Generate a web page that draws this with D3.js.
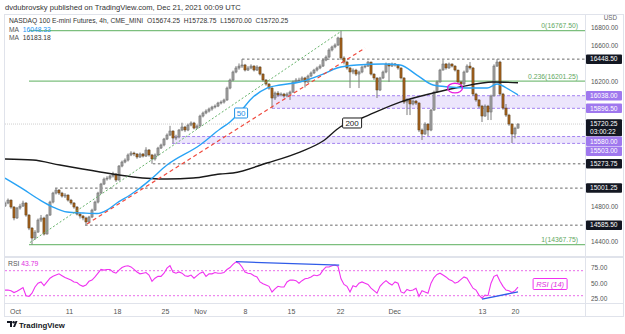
<!DOCTYPE html>
<html><head><meta charset="utf-8">
<script src="https://cdn.jsdelivr.net/npm/d3@7/dist/d3.min.js"></script>
<style>body{margin:0;background:#fff}svg{display:block}text{font-family:"Liberation Sans",Arial,sans-serif}</style>
</head><body>
<svg id="c" width="625" height="334"></svg>
<script>
// ---------- DATA ----------
const firstOpen = 14800;
const closes = [14834,14867,14789,14666,14778,14800,14834,14699,14553,14441,
14508,14643,14666,14486,14699,14845,14946,14980,14946,14912,
14924,14867,14834,14789,14710,14688,14666,14621,14677,14755,
14845,14946,15047,15103,15114,15137,15159,15092,15249,15294,
15316,15373,15395,15384,15350,15384,15361,15429,15373,15328,
15373,15451,15485,15552,15597,15642,15563,15575,15653,15687,
15653,15709,15732,15675,15698,15810,15844,15866,15889,15911,
15922,15956,15967,15990,16124,16214,16304,16349,16371,16383,
16326,16349,16371,16326,16360,16281,16214,16169,16124,16012,
16068,16046,16057,16035,16057,16079,16192,16214,16214,16237,
16192,16259,16293,16326,16349,16371,16438,16472,16551,16585,
16607,16686,16461,16416,16349,16304,16326,16281,16304,16360,
16371,16416,16281,16237,16102,16237,16304,16394,16371,16394,
16383,16349,16237,15967,15990,15945,15978,15956,15653,15608,
15720,15653,15877,16079,16192,16326,16394,16349,16394,16371,
16326,16192,16169,16304,16371,16349,16057,15990,15922,15810,
15922,15855,16035,16371,16416,16057,15900,15821,15720,15608,
15674.25,15720.25];
const highs = [14850,14885,14875,14800,14790,14825,14860,14845,14710,14565,
14530,14660,14700,14680,14710,14860,14960,15001.25,14990,14960,
14945,14930,14880,14845,14800,14730,14700,14680,14690,14770,
14860,14960,15060,15120,15135,15150,15185,15170,15260,15310,
15335,15390,15415,15410,15395,15400,15395,15460,15440,15385,
15390,15465,15500,15565,15615,15700,15650,15600,15665,15735,
15700,15725,15750,15745,15715,15825,15860,15885,15905,15925,
15940,15970,15985,16005,16140,16230,16320,16370,16400,16448.5,
16395,16370,16390,16380,16380,16370,16290,16225,16180,16135,
16085,16090,16075,16070,16075,16095,16210,16235,16240,16255,
16250,16275,16310,16340,16365,16390,16455,16490,16570,16600,
16625,16700,16767.5,16480,16430,16360,16345,16340,16320,16375,
16390,16430,16420,16290,16245,16250,16320,16410,16400,16410,
16405,16390,16355,16245,16010,16000,15995,15990,15965,15670,
15740,15730,15890,16095,16210,16340,16438,16405,16410,16400,
16380,16330,16205,16320,16390,16416,16360,16070,16000,15935,
15940,15935,16050,16390,16448.5,16430,16070,15945,15835,15730,
15690,15728.75];
const lows = [14790,14820,14770,14640,14655,14760,14790,14680,14530,14367.75,
14420,14500,14620,14470,14480,14690,14830,14930,14925,14895,
14890,14850,14815,14770,14695,14660,14640,14585.5,14605,14665,
14745,14830,14935,15035,15085,15095,15120,15070,15085,15235,
15280,15300,15360,15360,15330,15340,15345,15350,15355,15273.75,
15310,15360,15440,15470,15540,15585,15503,15540,15560,15640,
15630,15640,15695,15660,15665,15690,15795,15830,15850,15870,
15895,15910,15940,15950,15980,16110,16200,16290,16330,16350,
16310,16315,16335,16310,16315,16265,16195,16150,16105,15896.5,
15990,16025,16030,16015,16020,15990,16070,16180,16195,16200,
16130,16180,16245,16280,16310,16335,16360,16425,16460,16535,
16570,16595,16440,16390,16330,16124,16280,16260,16124,16290,
16345,16360,16265,16215,16012,16090,16225,16290,16192,16360,
16365,16330,16220,15945,15821,15821,15930,15935,15630,15541,
15600,15586,15640,15870,16070,16185,16320,16330,16340,16355,
16310,16175,16140,16160,16295,16330,16035,15970,15900,15743,
15800,15765,15765,16030,16360,16035,15880,15800,15700,15507,
15560,15670];
const rsi = [39,39,38,35,37,40,43,30,29,34,
44,50,52,46,52,58,61,63,65,62,
59,57,55,52,51,47,45,47,53,55,
60,66,72,71,72,72,68,66,71,75,
77,78,76,72,68,65,66,67,63,53,
58,61,61,66,74,78,68,66,68,66,
62,61,63,58,62,66,68,61,65,65,
67,66,66,67,72,75,80,84,82,76,
68,66,65,62,60,52,49,47,45,36,
41,45,44,44,52,55,55,54,50,54,
57,58,60,63,62,64,71,76,76,78,
79,77,57,48,45,36,46,44,50,52,
50,48,42,38,34,45,50,54,50,47,
52,50,36,34,40,38,39,42,29,38,
36,34,50,59,64,66,63,60,56,54,
50,52,56,60,58,50,42,39,31,26,
31,30,50,61,63,53,45,39,38,35,
38,43.79];
const ma50Idx = [0,5,11.7,16,20.7,26,30.7,34,37.3,41.7,45,48.3,54,65,71.7,75,78.3,82.7,87.3,91.7,98.3,106,110.7,117.3,126,131.7,137.3,142.7,148.3,155,160.7,164,168.3,171];
const ma50Val = [15114,15013,14867,14789,14733,14722,14716,14755,14834,14924,15002,15092,15260,15485,15664,15743,15855,16023,16124,16158,16192,16281,16349,16383,16394,16383,16270,16158,16136,16124,16124,16169,16102,16048.33];
const ma200Idx = [0,9.3,18.3,31.7,42.7,54,62.7,71.7,76,87.3,98.3,106,111.7,119,131.7,142.7,151.7,162.7,171];
const ma200Val = [15328,15316,15260,15182,15126,15103,15114,15159,15171,15283,15406,15530,15687,15788,15967,16068,16136,16192,16183.18];
const timeTickIdx = [3.3,21.3,37.3,53.3,65,80,95.3,111.7,129.7,159,170];
const timeTickLabels = ["Oct","11","18","25","Nov","8","15","22","Dec","13","20"];
const priceTicks = [16800,16600,16400,16200,16000,15800,15600,15400,15200,15000,14800,14600,14400];
const rsiTicks = [75,50,25];
const rsiBands = [70,30];
const supportLevels = [16448.5,15273.75,15001.25,14585.5];
const supportStartIdx = [79,49.3,16.7,26.7];
const zoneTop = [16038,15580];
const zoneBottom = [15896.5,15503];
const zoneStartIdx = [89,55.7];
const fibLevels = [16767.5,16201.25,14367.75];
const fibLabels = ["0(16767.50)","0.236(16201.25)","1(14367.75)"];
const fibStartIdx = 8;
const greenTrend = [[8.3,14390],[111.7,16753]];
const redTrend = [[27.3,14598],[120,16573]];
const rsiDivTop = [[77,84.4],[111.4,79]];
const rsiDivBottom = [[159,24.7],[171,36]];
const lastPrice = 15720.25;
const countdown = "03:00:22";

// ---------- LAYOUT ----------
const svg = d3.select("#c");
const W = 625, H = 334, axisX = 585, paneTop = 14, paneBottom = 256, rsiTop = 258, rsiBottom = 303, timeBottom = 316;
const x = d3.scaleLinear().domain([0,171]).range([5,518]);
const y = d3.scaleLinear().domain([14400,16800]).range([241.7,27.8]);
const yr = d3.scaleLinear().domain([30,70]).range([295.7,270.7]);
const font = '"Liberation Sans",Arial,sans-serif';

svg.append("rect").attr("width",W).attr("height",H).attr("fill","#fff");
const frameC = "#e0e3eb";
svg.append("rect").attr("x",4.5).attr("y",paneTop+0.5).attr("width",619).attr("height",timeBottom-paneTop).attr("fill","none").attr("stroke",frameC);
svg.append("line").attr("x1",4.5).attr("x2",623.5).attr("y1",paneBottom+1).attr("y2",paneBottom+1).attr("stroke",frameC).attr("stroke-width",2);
svg.append("line").attr("x1",4.5).attr("x2",623.5).attr("y1",rsiBottom+0.5).attr("y2",rsiBottom+0.5).attr("stroke",frameC);
svg.append("line").attr("x1",axisX+0.5).attr("x2",axisX+0.5).attr("y1",paneTop).attr("y2",timeBottom).attr("stroke",frameC);

svg.append("defs").append("clipPath").attr("id","mainClip").append("rect")
  .attr("x",5).attr("y",paneTop+1).attr("width",axisX-5).attr("height",paneBottom-paneTop-1);
const main = svg.append("g").attr("clip-path","url(#mainClip)");

// zones
zoneTop.forEach((t,k)=>{
  const x0 = x(zoneStartIdx[k]);
  main.append("rect").attr("x",x0).attr("y",y(t)).attr("width",axisX-x0).attr("height",y(zoneBottom[k])-y(t))
    .attr("fill","rgba(160,125,240,0.2)");
  [t,zoneBottom[k]].forEach(v=>main.append("line").attr("x1",x0).attr("x2",axisX).attr("y1",y(v)).attr("y2",y(v))
    .attr("stroke","#a382f0").attr("stroke-dasharray","3,2"));
});
// fib lines
fibLevels.forEach((v,k)=>{
  main.append("line").attr("x1",x(fibStartIdx)).attr("x2",axisX).attr("y1",y(v)).attr("y2",y(v))
    .attr("stroke","#7cbf7e").attr("stroke-width",1.2);
  main.append("text").attr("x",578).attr("y",y(v)-2.5).attr("text-anchor","end").attr("font-size",6.8)
    .attr("fill","#5fa862").text(fibLabels[k]);
});
// support dashed lines
supportLevels.forEach((v,k)=>{
  main.append("line").attr("x1",x(supportStartIdx[k])).attr("x2",axisX).attr("y1",y(v)).attr("y2",y(v))
    .attr("stroke","#666").attr("stroke-dasharray","2.5,2.5");
});
// last price line
main.append("line").attr("x1",5).attr("x2",axisX).attr("y1",y(lastPrice)).attr("y2",y(lastPrice))
  .attr("stroke","#cfcfcf").attr("stroke-dasharray","1,1");

// candles
const candles = closes.map((c,i)=>({i, o: i===0?firstOpen:closes[i-1], c, h:highs[i], l:lows[i]}));
const cg = main.append("g");
cg.selectAll("line.w").data(candles).join("line").attr("class","w")
  .attr("x1",d=>x(d.i)).attr("x2",d=>x(d.i)).attr("y1",d=>y(d.h)).attr("y2",d=>y(d.l))
  .attr("stroke","#7d7d7d").attr("stroke-width",1);
cg.selectAll("rect.b").data(candles).join("rect").attr("class","b")
  .attr("x",d=>x(d.i)-1.1).attr("width",2.2)
  .attr("y",d=>y(Math.max(d.o,d.c))).attr("height",d=>Math.max(0.8,Math.abs(y(d.o)-y(d.c))))
  .attr("fill",d=>d.c>=d.o?"#9b9b9b":"#a0601c").attr("stroke",d=>d.c>=d.o?"#5e5e5e":"#4a3010").attr("stroke-width",0.4);

// moving averages
const line = d3.line().x(d=>x(d[0])).y(d=>y(d[1])).curve(d3.curveMonotoneX);
main.append("path").datum(ma200Idx.map((v,k)=>[v,ma200Val[k]])).attr("d",line)
  .attr("fill","none").attr("stroke","#1a1a1a").attr("stroke-width",1.4);
main.append("path").datum(ma50Idx.map((v,k)=>[v,ma50Val[k]])).attr("d",line)
  .attr("fill","none").attr("stroke","#29a3f5").attr("stroke-width",1.4);

// trend lines
const tl = d3.line().x(d=>x(d[0])).y(d=>y(d[1]));
main.append("path").datum(greenTrend).attr("d",tl).attr("stroke","#66b36a").attr("stroke-dasharray","2,2").attr("stroke-width",1);
main.append("path").datum(redTrend).attr("d",tl).attr("stroke","#f04a3e").attr("stroke-dasharray","4,3").attr("stroke-width",1.2);

// annotations
function tag(g, idx, val, txt, col, w){
  const cx = x(idx), cy = y(val);
  g.append("rect").attr("x",cx-w/2).attr("y",cy-5).attr("width",w).attr("height",10).attr("rx",1)
    .attr("fill","#fff").attr("stroke",col).attr("stroke-width",1);
  g.append("text").attr("x",cx).attr("y",cy+3).attr("text-anchor","middle").attr("font-size",8).attr("fill",col).text(txt);
}
tag(main, 78.7, 15844, "50", "#1e90e6", 13);
tag(main, 115.7, 15732, "200", "#1a1a1a", 19);
main.append("ellipse").attr("cx",x(150)).attr("cy",y(16124)).attr("rx",7.5).attr("ry",4.8)
  .attr("fill","none").attr("stroke","#e81ee0").attr("stroke-width",1.3);

// ---------- RSI PANE ----------
const rg = svg.append("g");
rsiBands.forEach(v=>rg.append("line").attr("x1",5).attr("x2",axisX).attr("y1",yr(v)).attr("y2",yr(v))
  .attr("stroke","#e65ce6").attr("stroke-dasharray","2,2").attr("stroke-width",0.9));
rg.append("path").datum(rsi).attr("d",d3.line().x((d,i)=>x(i)).y(d=>yr(d)))
  .attr("fill","none").attr("stroke","#f032f0").attr("stroke-width",1.1);
[rsiDivTop,rsiDivBottom].forEach(seg=>rg.append("path").datum(seg)
  .attr("d",d3.line().x(d=>x(d[0])).y(d=>yr(d[1]))).attr("stroke","#2f5be8").attr("stroke-width",1.3).attr("fill","none"));
const rcx = x(181.7), rcy = yr(48.7);
rg.append("rect").attr("x",rcx-17).attr("y",rcy-5.5).attr("width",34).attr("height",11).attr("rx",1)
  .attr("fill","#fff").attr("stroke","#f032f0");
rg.append("text").attr("x",rcx).attr("y",rcy+3).attr("text-anchor","middle").attr("font-size",7.5)
  .attr("font-style","italic").attr("fill","#e02ee0").text("RSI (14)");
const rl = rg.append("text").attr("x",8).attr("y",266).attr("font-size",6.8);
rl.append("tspan").attr("fill","#555").text("RSI ");
rl.append("tspan").attr("fill","#e02ee0").text(d3.format(".2f")(rsi[rsi.length-1]));

const rAxis = svg.append("g").attr("transform",`translate(${axisX},0)`)
  .call(d3.axisRight(yr).tickValues(rsiTicks).tickFormat(d3.format(".2f")).tickSize(0).tickPadding(6));
rAxis.select(".domain").remove();
rAxis.selectAll("text").attr("font-size",6.5).attr("fill","#555").attr("font-family",font);

// ---------- PRICE AXIS + BADGES ----------
const purple = "#9f78ee", dark = "#131722";
const badges = [
  ...supportLevels.map(v=>({v, fill:dark})),
  ...zoneTop.map(v=>({v, fill:purple})),
  ...zoneBottom.map(v=>({v, fill:purple})),
  {v:lastPrice, fill:dark, sub:countdown}
].map(b=>({...b, yc:y(b.v), h: b.sub?17:9.5})).sort((a,b)=>a.yc-b.yc);
let prevBottom = -Infinity;
badges.forEach(b=>{ b.top = Math.max(b.yc-4.75, prevBottom+0.3); prevBottom = b.top + b.h; });
// hide tick labels covered by badges (as the price scale does)
const visibleTicks = priceTicks.filter(t=>{
  const ty = y(t);
  return !badges.some(b=> ty > b.top-3.5 && ty < b.top+b.h+3.5);
});
const pAxis = svg.append("g").attr("transform",`translate(${axisX},0)`)
  .call(d3.axisRight(y).tickValues(visibleTicks).tickFormat(d3.format(".2f")).tickSize(0).tickPadding(6));
pAxis.select(".domain").remove();
pAxis.selectAll("text").attr("font-size",6.5).attr("fill","#555").attr("font-family",font);
svg.append("text").attr("x",617).attr("y",20).attr("text-anchor","end").attr("font-size",6.3).attr("fill","#666").text("USD");

badges.forEach(b=>{
  const g = svg.append("g");
  g.append("rect").attr("x",axisX+1).attr("y",b.top).attr("width",36).attr("height",b.h).attr("rx",1).attr("fill",b.fill);
  g.append("text").attr("x",axisX+5).attr("y",b.top+7).attr("font-size",6.6).attr("fill","#fff").text(d3.format(".2f")(b.v));
  if(b.sub) g.append("text").attr("x",axisX+5).attr("y",b.top+14.5).attr("font-size",6.6).attr("fill","#fff").text(b.sub);
});

// ---------- TIME AXIS ----------
const tAxis = svg.append("g").attr("transform",`translate(0,${rsiBottom})`)
  .call(d3.axisBottom(x).tickValues(timeTickIdx).tickFormat((d,i)=>timeTickLabels[i]).tickSize(0).tickPadding(6));
tAxis.select(".domain").remove();
tAxis.selectAll("text").attr("font-size",7).attr("fill","#555").attr("font-family",font);

// ---------- HEADER / LEGEND ----------
svg.append("text").attr("x",5).attr("y",9.5).attr("font-size",7.6).attr("fill","#333")
  .text("dvdubrovsky published on TradingView.com, Dec 21, 2021 00:09 UTC");
svg.append("text").attr("x",9).attr("y",23).attr("font-size",6.7).attr("fill","#333")
  .text("NASDAQ 100 E-mini Futures, 4h, CME_MINI\u00a0\u00a0O15674.25\u00a0\u00a0H15728.75\u00a0\u00a0L15670.00\u00a0\u00a0C15720.25");
const m1 = svg.append("text").attr("x",9).attr("y",31.5).attr("font-size",6.7);
m1.append("tspan").attr("fill","#555").text("MA\u00a0\u00a0");
m1.append("tspan").attr("fill","#2196f3").text(d3.format(".2f")(ma50Val[ma50Val.length-1]));
const m2 = svg.append("text").attr("x",9).attr("y",40).attr("font-size",6.7);
m2.append("tspan").attr("fill","#555").text("MA\u00a0\u00a0");
m2.append("tspan").attr("fill","#333").text(d3.format(".2f")(ma200Val[ma200Val.length-1]));

const lg = svg.append("g").attr("transform","translate(7,321)");
lg.append("path").attr("d","M0,0H5V6H3V2H0Z").attr("fill","#131722");
lg.append("circle").attr("cx",6.6).attr("cy",1.2).attr("r",1.2).attr("fill","#131722");
lg.append("path").attr("d","M6,6L8.5,0H10.5L8,6Z").attr("fill","#131722");
svg.append("text").attr("x",19).attr("y",327.5).attr("font-size",7.8).attr("fill","#131722").attr("font-weight","bold").text("TradingView");
</script>
</body></html>
